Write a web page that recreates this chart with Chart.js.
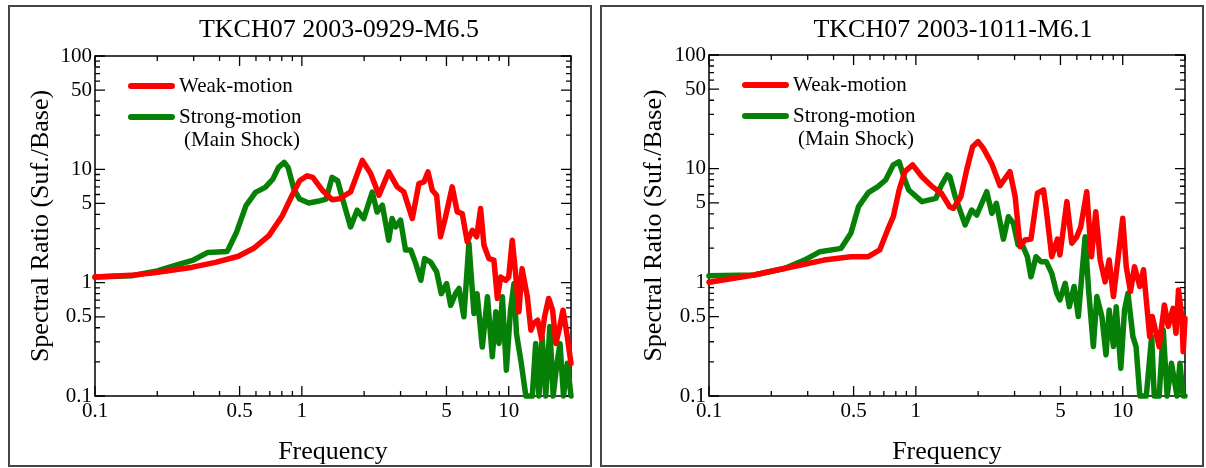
<!DOCTYPE html>
<html>
<head>
<meta charset="utf-8">
<script src="https://cdn.jsdelivr.net/npm/chart.js@4.4.1/dist/chart.umd.min.js"></script>
<style>
  html, body { margin: 0; padding: 0; background: #fff; }
  body { width: 1206px; height: 468px; position: relative; overflow: hidden; }
  .panel { position: absolute; top: 5px; height: 462px; border: 2px solid #444; box-sizing: border-box; }
  .panel canvas { display: block; }
</style>
</head>
<body>
<div class="panel" style="left:8px; width:584px;"><canvas id="chartLeft" width="580" height="458"></canvas></div>
<div class="panel" style="left:600px; width:604px;"><canvas id="chartRight" width="600" height="458"></canvas></div>
<script>
// --- data (frequency in Hz, spectral ratio) ---
const weakFreqA = [0.1, 0.15, 0.193, 0.296, 0.382, 0.493, 0.585, 0.693, 0.805, 0.895, 0.975, 1.06, 1.13, 1.26, 1.4, 1.52,
  1.72, 1.96, 2.15, 2.36, 2.63, 2.89, 3.11, 3.42, 3.68, 3.89, 4.07, 4.27, 4.48, 4.68, 4.95, 5.33, 5.64, 5.96, 6.30, 6.67,
  7.00, 7.31, 7.59, 8.02, 8.48, 8.81, 9.14, 9.66, 10.0, 10.4, 10.8, 11.2, 11.6, 12.3, 12.8, 13.2, 13.8, 14.4, 14.9, 15.6,
  16.3, 16.9, 17.5, 18.3, 19.2, 20];
const weakAmpA = [1.12, 1.16, 1.22, 1.37, 1.51, 1.71, 2.01, 2.6, 3.9, 5.85, 7.92, 8.77, 8.5, 6.5, 5.4, 5.5,
  6.32, 12.0, 9.18, 5.91, 9.49, 7.0, 6.32, 3.68, 7.49, 7.74, 9.49, 6.54, 5.91, 2.54, 3.8, 7.0, 4.21, 4.07, 2.29, 2.9,
  2.54, 4.51, 2.14, 1.63, 1.58, 0.726, 1.12, 1.05, 1.12, 2.37, 1.2, 0.553, 1.33, 0.75, 0.381, 0.437, 0.467, 0.322, 0.5, 0.726,
  0.572, 0.291, 0.381, 0.572, 0.333, 0.194];

const strongFreqA = [0.1, 0.15, 0.2, 0.244, 0.296, 0.351, 0.434, 0.443, 0.483, 0.537, 0.597, 0.665, 0.724, 0.771, 0.822,
  0.858, 0.915, 0.975, 1.08, 1.21, 1.31, 1.40, 1.49, 1.59, 1.72, 1.85, 1.99, 2.19, 2.31, 2.45, 2.63, 2.73, 2.84, 3.0,
  3.17, 3.36, 3.55, 3.76, 3.92, 4.19, 4.48, 4.72, 5.01, 5.24, 5.53, 5.75, 6.07, 6.42, 6.79, 7.03, 7.45, 7.89, 8.33, 8.66,
  8.97, 9.32, 9.74, 10.2, 10.6, 10.9, 11.5, 12.1, 13.0, 13.5, 14.0, 14.5, 15.1, 15.8, 16.4, 17.1, 17.7, 18.4, 19.2, 20];
const strongAmpA = [1.12, 1.15, 1.27, 1.42, 1.57, 1.85, 1.88, 2.0, 2.78, 4.78, 6.26, 6.93, 8.2, 10.4, 11.5,
  10.4, 6.7, 5.47, 5.05, 5.25, 5.47, 8.5, 7.9, 5.12, 3.1, 4.36, 3.68, 6.3, 4.2, 4.83, 2.37, 3.68, 3.1, 3.56,
  1.94, 1.94, 1.48, 1.05, 1.63, 1.52, 1.25, 0.8, 0.98, 0.63, 0.8, 0.89, 0.5, 2.22, 0.535, 0.8, 0.27, 0.75, 0.222, 0.553,
  0.291, 0.75, 0.169, 0.572, 0.98, 0.356, 0.194, 0.1, 0.1, 0.291, 0.1, 0.333, 0.1, 0.41, 0.1, 0.194, 0.29, 0.1, 0.194, 0.1];

const weakFreqB = [0.1, 0.165, 0.254, 0.359, 0.485, 0.589, 0.669, 0.73, 0.778, 0.83, 0.885, 0.965, 1.07, 1.2, 1.33, 1.46,
  1.52, 1.65, 1.76, 1.88, 2.0, 2.12, 2.33, 2.55, 2.85, 3.02, 3.19, 3.37, 3.6, 3.87, 4.14, 4.27, 4.54, 4.83, 4.97, 5.37,
  5.67, 5.99, 6.27, 6.7, 7.06, 7.41, 7.78, 8.22, 8.6, 9.02, 9.53, 10.0, 10.4, 10.9, 11.4, 12.1, 12.6, 13.5, 13.9, 15.0,
  15.9, 16.6, 17.5, 18.1, 18.6, 19.3, 19.6, 20];
const weakAmpB = [1.0, 1.16, 1.37, 1.57, 1.68, 1.68, 1.93, 2.89, 3.78, 6.49, 9.41, 10.8, 8.5, 6.95, 6.07, 4.6,
  4.48, 5.67, 9.73, 15.6, 17.3, 15.1, 11.0, 7.1, 9.41, 5.67, 2.06, 2.36, 2.4, 6.08, 6.5, 4.33, 1.68, 2.4, 1.74, 5.13,
  2.21, 2.5, 3.09, 6.27, 1.68, 4.18, 1.57, 1.01, 1.57, 0.749, 1.74, 3.66, 1.37, 0.83, 1.37, 0.92, 1.29, 0.333, 0.5, 0.272,
  0.633, 0.41, 0.59, 0.356, 0.857, 0.5, 0.246, 0.48];

const strongFreqB = [0.1, 0.165, 0.233, 0.289, 0.344, 0.435, 0.485, 0.528, 0.589, 0.655, 0.714, 0.778, 0.83, 0.885, 0.924,
  1.07, 1.25, 1.33, 1.42, 1.46, 1.55, 1.73, 1.86, 1.97, 2.2, 2.33, 2.45, 2.65, 2.8, 2.96, 3.12, 3.3, 3.46, 3.6, 3.81,
  4.02, 4.27, 4.54, 4.8, 4.97, 5.27, 5.52, 5.82, 6.1, 6.58, 6.84, 7.21, 7.5, 7.93, 8.3, 8.6, 9.02, 9.3, 9.79, 10.2, 10.6,
  11.2, 11.6, 12.1, 13.0, 13.8, 14.2, 15.0, 15.7, 16.4, 17.2, 18.3, 18.9, 19.6, 20];
const strongAmpB = [1.14, 1.16, 1.33, 1.57, 1.86, 1.99, 2.7, 4.63, 6.15, 6.95, 7.95, 10.8, 11.5, 7.95, 6.49,
  5.13, 5.48, 7.18, 8.8, 8.5, 5.67, 3.2, 4.33, 3.91, 6.27, 4.05, 4.96, 2.4, 3.78, 3.31, 2.13, 2.06, 1.68, 1.12, 1.68,
  1.52, 1.52, 1.2, 0.8, 0.7, 0.98, 0.611, 0.92, 0.5, 2.52, 0.857, 0.272, 0.749, 0.5, 0.23, 0.572, 0.272, 0.611, 0.175, 0.572, 0.8,
  0.333, 0.272, 0.1, 0.1, 0.333, 0.1, 0.1, 0.38, 0.1, 0.194, 0.1, 0.194, 0.1, 0.1];

// tick values
const xTickMarks = [0.1, 0.2, 0.3, 0.4, 0.5, 0.6, 0.7, 0.8, 0.9, 1, 2, 3, 4, 5, 6, 7, 8, 9, 10, 20];
const xTickLabels = [0.1, 0.5, 1, 5, 10];
const yTickMarks = [0.1, 0.2, 0.3, 0.4, 0.5, 0.6, 0.7, 0.8, 0.9, 1, 2, 3, 4, 5, 6, 7, 8, 9,
  10, 20, 30, 40, 50, 60, 70, 80, 90, 100];
const yTickLabels = [0.1, 0.5, 1, 5, 10, 50, 100];

const legendNames = ['Weak-motion', 'Strong-motion', '(Main Shock)'];

const RED = '#ff0000';
const GREEN = '#078007';
const SERIF = '"Liberation Serif", "Times New Roman", serif';

const zip = (xs, ys) => xs.map((x, i) => ({ x: x, y: ys[i] }));

// frame, inward ticks on all four sides, title and legend
const panelDecor = {
    id: 'panelDecor',
    beforeDatasetsDraw(chart) {
        const { ctx, chartArea: a, scales: { x, y } } = chart;
        ctx.save();
        ctx.strokeStyle = '#000';
        ctx.lineWidth = 1.5;
        ctx.strokeRect(a.left, a.top, a.right - a.left, a.bottom - a.top);
        ctx.lineWidth = 1.3;
        ctx.beginPath();
        xTickMarks.forEach(v => {
            const p = x.getPixelForValue(v);
            const len = xTickLabels.includes(v) ? 10 : 5;
            ctx.moveTo(p, a.bottom); ctx.lineTo(p, a.bottom - len);
            ctx.moveTo(p, a.top); ctx.lineTo(p, a.top + len);
        });
        yTickMarks.forEach(v => {
            const p = y.getPixelForValue(v);
            const len = yTickLabels.includes(v) ? 10 : 5;
            ctx.moveTo(a.left, p); ctx.lineTo(a.left + len, p);
            ctx.moveTo(a.right, p); ctx.lineTo(a.right - len, p);
        });
        ctx.stroke();
        ctx.restore();
    },
    afterDraw(chart, args, opts) {
        const { ctx, chartArea: a } = chart;
        ctx.save();
        ctx.fillStyle = '#000';
        ctx.font = '26px ' + SERIF;
        ctx.textAlign = 'center';
        ctx.textBaseline = 'alphabetic';
        ctx.fillText(opts.title, (a.left + a.right) / 2 + 6, 30);

        // legend
        const rows = [[RED, legendNames[0], 30], [GREEN, legendNames[1], 61]];
        ctx.lineCap = 'round';
        ctx.lineWidth = 6;
        rows.forEach(([color, text, dy]) => {
            ctx.strokeStyle = color;
            ctx.beginPath();
            ctx.moveTo(a.left + 36, a.top + dy);
            ctx.lineTo(a.left + 77, a.top + dy);
            ctx.stroke();
        });
        ctx.font = '21px ' + SERIF;
        ctx.textAlign = 'left';
        ctx.textBaseline = 'middle';
        ctx.fillText(legendNames[0], a.left + 84, a.top + 30);
        ctx.fillText(legendNames[1], a.left + 84, a.top + 61);
        ctx.fillText(legendNames[2], a.left + 89, a.top + 84);
        ctx.restore();
    }
};

function makePanel(canvasId, cfg) {
    const ctx = document.getElementById(canvasId).getContext('2d');
    const lineStyle = {
        borderWidth: 5.5,
        pointRadius: 0,
        tension: 0,
        borderJoinStyle: 'round',
        borderCapStyle: 'round',
        clip: 8
    };
    return new Chart(ctx, {
        type: 'line',
        data: {
            datasets: [
                Object.assign({ data: zip(cfg.weakF, cfg.weakA), borderColor: RED }, lineStyle),
                Object.assign({ data: zip(cfg.strongF, cfg.strongA), borderColor: GREEN }, lineStyle)
            ]
        },
        options: {
            responsive: false,
            animation: false,
            devicePixelRatio: 1,
            layout: { padding: { top: cfg.top, right: cfg.right, left: 0, bottom: 0 } },
            plugins: {
                legend: { display: false },
                tooltip: { enabled: false },
                panelDecor: { title: cfg.title }
            },
            scales: {
                x: {
                    type: 'logarithmic',
                    min: 0.1,
                    max: 20,
                    grid: { display: false, drawTicks: false },
                    border: { display: false },
                    afterBuildTicks: s => { s.ticks = xTickLabels.map(v => ({ value: v })); },
                    afterFit: s => { s.height = cfg.xAxisHeight; },
                    ticks: {
                        autoSkip: false,
                        maxRotation: 0,
                        padding: 3,
                        color: '#000',
                        font: { family: SERIF, size: 21 },
                        callback: v => String(v)
                    },
                    title: {
                        display: true,
                        text: 'Frequency',
                        color: '#000',
                        font: { family: SERIF, size: 26 },
                        padding: { top: 0, bottom: -3 }
                    }
                },
                y: {
                    type: 'logarithmic',
                    min: 0.1,
                    max: 100,
                    grid: { display: false, drawTicks: false },
                    border: { display: false },
                    afterBuildTicks: s => { s.ticks = yTickLabels.map(v => ({ value: v })); },
                    afterFit: s => { s.width = cfg.yAxisWidth; },
                    ticks: {
                        autoSkip: false,
                        padding: 3,
                        color: '#000',
                        font: { family: SERIF, size: 21 },
                        callback: v => String(v)
                    },
                    title: {
                        display: true,
                        text: 'Spectral Ratio (Suf./Base)',
                        color: '#000',
                        font: { family: SERIF, size: 26 },
                        padding: { top: cfg.yTitlePad, bottom: 0 }
                    }
                }
            }
        },
        plugins: [panelDecor]
    });
}

makePanel('chartLeft', {
    title: 'TKCH07 2003-0929-M6.5',
    weakF: weakFreqA, weakA: weakAmpA, strongF: strongFreqA, strongA: strongAmpA,
    top: 49, right: 19, xAxisHeight: 69, yAxisWidth: 85, yTitlePad: 16
});

makePanel('chartRight', {
    title: 'TKCH07 2003-1011-M6.1',
    weakF: weakFreqB, weakA: weakAmpB, strongF: strongFreqB, strongA: strongAmpB,
    top: 48, right: 17, xAxisHeight: 69, yAxisWidth: 107, yTitlePad: 37
});
</script>
</body>
</html>
